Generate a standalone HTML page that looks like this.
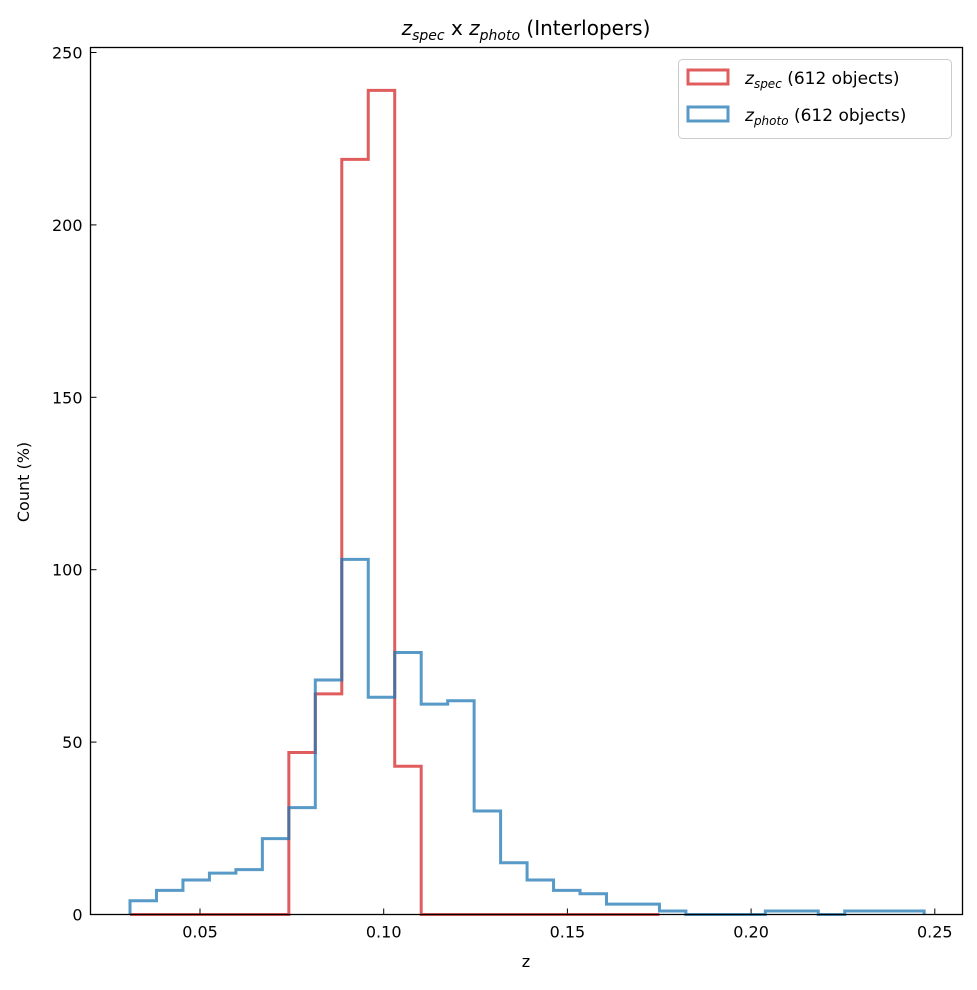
<!DOCTYPE html>
<html><head><meta charset="utf-8"><style>
body{margin:0;background:#fff;}
svg text{font-family:"DejaVu Sans","Liberation Sans",sans-serif;fill:#000;}
</style></head><body>
<svg id="chart" width="977" height="985" xmlns="http://www.w3.org/2000/svg">
<text x="526" y="35" font-size="20" text-anchor="middle"><tspan font-style="italic">z</tspan><tspan font-style="italic" font-size="14" dy="5">spec</tspan><tspan dy="-5"> x </tspan><tspan font-style="italic">z</tspan><tspan font-style="italic" font-size="14" dy="5">photo</tspan><tspan dy="-5"> (Interlopers)</tspan></text>
<text x="526" y="967" font-size="16" text-anchor="middle">z</text>
<text x="0" y="0" font-size="16" text-anchor="middle" transform="translate(29,482) rotate(-90)">Count (%)</text>
<g id="axes"></g>
<g id="series"></g>
<rect x="90.5" y="47.5" width="872" height="867" fill="none" stroke="#000" stroke-width="1.3"/>
<g>
<rect x="678.5" y="59.5" width="273" height="79" rx="4" fill="#fff" stroke="#ccc"/>
<g>
<rect x="688" y="70" width="40" height="14" fill="none" stroke="#d62728" stroke-opacity="0.75" stroke-width="3"/>
<text x="745" y="84" font-size="17"><tspan font-style="italic">z</tspan><tspan font-style="italic" font-size="12" dy="4">spec</tspan><tspan dy="-4"> (612 objects)</tspan></text>
</g>
<g>
<rect x="688" y="107" width="40" height="14" fill="none" stroke="#1f77b4" stroke-opacity="0.75" stroke-width="3"/>
<text x="745" y="121" font-size="17"><tspan font-style="italic">z</tspan><tspan font-style="italic" font-size="12" dy="4">photo</tspan><tspan dy="-4"> (612 objects)</tspan></text>
</g>
</g>
</svg>
<script>
const binStart = 0.03095;
const binWidth = 0.007205;
const specCounts = [0,0,0,0,0,0,47,64,219,239,43,0,0,0,0,0,0,0,0,0];
const photoCounts = [4,7,10,12,13,22,31,68,103,63,76,61,62,30,15,10,7,6,3,3,1,0,0,0,1,1,0,1,1,1];
const xTicks = [0.05,0.10,0.15,0.20,0.25];
const xTickLabels = ["0.05","0.10","0.15","0.20","0.25"];
const yTicks = [0,50,100,150,200,250];

const X0=90.5,X1=962.5,Y0=914.5,Y1=47.5;
function xs(v){return 200+(v-0.05)*3674;}
function ys(v){return 914.5-v*3.448;}
const NS='http://www.w3.org/2000/svg';
const axes=document.getElementById('axes');
xTicks.forEach((t,i)=>{
  const l=document.createElementNS(NS,'line');
  l.setAttribute('x1',xs(t));l.setAttribute('x2',xs(t));l.setAttribute('y1',Y0);l.setAttribute('y2',Y0-6);
  l.setAttribute('stroke','#000');
  
  
  axes.appendChild(l);
  const tx=document.createElementNS(NS,'text');
  tx.setAttribute('x',xs(t));tx.setAttribute('y',Y0+23);tx.setAttribute('font-size','16');tx.setAttribute('text-anchor','middle');
  tx.textContent=xTickLabels[i];
  
  
  axes.appendChild(tx);
});
yTicks.forEach(t=>{
  const l=document.createElementNS(NS,'line');
  l.setAttribute('x1',X0);l.setAttribute('x2',X0+6);l.setAttribute('y1',ys(t));l.setAttribute('y2',ys(t));
  l.setAttribute('stroke','#000');
  
  
  axes.appendChild(l);
  const tx=document.createElementNS(NS,'text');
  tx.setAttribute('x',X0-8);tx.setAttribute('y',ys(t)+6);tx.setAttribute('font-size','16');tx.setAttribute('text-anchor','end');
  tx.textContent=String(t);
  
  
  axes.appendChild(tx);
});
function stepPath(counts){
  let d='M'+xs(binStart)+','+ys(0);
  counts.forEach((c,i)=>{
    const a=xs(binStart+i*binWidth),b=xs(binStart+(i+1)*binWidth);
    d+=' L'+a+','+ys(c)+' L'+b+','+ys(c);
  });
  d+=' L'+xs(binStart+counts.length*binWidth)+','+ys(0);
  return d;
}
const series=document.getElementById('series');
[[specCounts,'#d62728','spec-histogram'],[photoCounts,'#1f77b4','photo-histogram']].forEach(s=>{
  const p=document.createElementNS(NS,'path');
  p.setAttribute('d',stepPath(s[0]));
  p.setAttribute('fill','none');p.setAttribute('stroke',s[1]);p.setAttribute('stroke-opacity','0.75');p.setAttribute('stroke-width','3');
  
  
  series.appendChild(p);
});
</script>
</body></html>
